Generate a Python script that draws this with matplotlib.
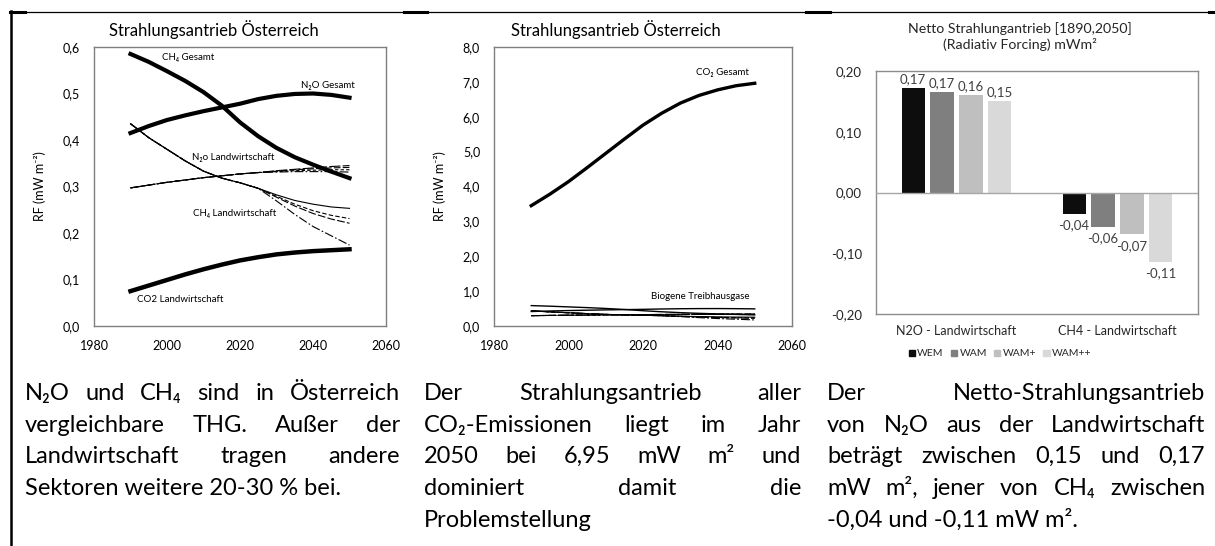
import matplotlib
matplotlib.use("Agg")
import matplotlib.pyplot as plt
from matplotlib.lines import Line2D
from matplotlib.patches import Patch
from matplotlib.ticker import FuncFormatter

FAM = ['Lato', 'DejaVu Sans']
plt.rcParams['font.family'] = FAM

# ---- data ----
years = [1990, 1995, 2000, 2005, 2010, 2015, 2020, 2025, 2030, 2035, 2040, 2045, 2050]

ch4_gesamt = [0.585, 0.568, 0.548, 0.527, 0.503, 0.474, 0.438, 0.408, 0.383, 0.363, 0.347, 0.332, 0.318]
n2o_gesamt = [0.415, 0.430, 0.443, 0.453, 0.462, 0.470, 0.478, 0.488, 0.495, 0.499, 0.500, 0.497, 0.491]
co2_landw = [0.075, 0.087, 0.099, 0.111, 0.122, 0.132, 0.141, 0.148, 0.154, 0.158, 0.161, 0.163, 0.165]

# scenarios WEM, WAM, WAM+, WAM++
n2o_landw = [
    [0.297, 0.303, 0.309, 0.314, 0.319, 0.323, 0.327, 0.330, 0.334, 0.337, 0.340, 0.343, 0.345],
    [0.297, 0.303, 0.309, 0.314, 0.319, 0.323, 0.327, 0.330, 0.333, 0.336, 0.338, 0.340, 0.341],
    [0.297, 0.303, 0.309, 0.314, 0.319, 0.323, 0.327, 0.330, 0.332, 0.334, 0.335, 0.336, 0.336],
    [0.297, 0.303, 0.309, 0.314, 0.319, 0.323, 0.327, 0.330, 0.331, 0.332, 0.332, 0.332, 0.331],
]
ch4_landw = [
    [0.435, 0.405, 0.380, 0.355, 0.333, 0.318, 0.308, 0.296, 0.282, 0.270, 0.262, 0.256, 0.253],
    [0.435, 0.405, 0.380, 0.355, 0.333, 0.318, 0.308, 0.296, 0.279, 0.262, 0.248, 0.238, 0.231],
    [0.435, 0.405, 0.380, 0.355, 0.333, 0.318, 0.308, 0.296, 0.277, 0.258, 0.242, 0.230, 0.221],
    [0.435, 0.405, 0.380, 0.355, 0.333, 0.318, 0.308, 0.296, 0.269, 0.240, 0.214, 0.194, 0.174],
]
co2_gesamt = [3.45, 3.78, 4.14, 4.54, 4.95, 5.36, 5.76, 6.10, 6.39, 6.61, 6.77, 6.89, 6.96]

bar_cats = ['N2O - Landwirtschaft', 'CH4 - Landwirtschaft']
scenarios = ['WEM', 'WAM', 'WAM+', 'WAM++']
bar_vals = {
    'WEM': [0.172, -0.035],
    'WAM': [0.166, -0.056],
    'WAM+': [0.160, -0.069],
    'WAM++': [0.150, -0.114],
}
bar_labels = {
    'WEM': ['0,17', '-0,04'],
    'WAM': ['0,17', '-0,06'],
    'WAM+': ['0,16', '-0,07'],
    'WAM++': ['0,15', '-0,11'],
}
bar_colors = ['#0d0d0d', '#7f7f7f', '#bfbfbf', '#d9d9d9']

para1 = ["N₂O und CH₄ sind in Österreich",
         "vergleichbare THG. Außer der",
         "Landwirtschaft tragen andere",
         "Sektoren weitere 20-30 % bei."]
para2 = ["Der Strahlungsantrieb aller",
         "CO₂-Emissionen liegt im Jahr",
         "2050 bei 6,95 mW m² und",
         "dominiert damit die",
         "Problemstellung"]
para3 = ["Der Netto-Strahlungsantrieb",
         "von N₂O aus der Landwirtschaft",
         "beträgt zwischen 0,15 und 0,17",
         "mW m², jener von CH₄ zwischen",
         "-0,04 und -0,11 mW m²."]

# ---- figure ----
W, H = 1215, 546
fig = plt.figure(figsize=(W / 100, H / 100), dpi=100)


def box(l, t, r, b):
    return [l / W, 1 - b / H, (r - l) / W, (b - t) / H]


def comma(fmt):
    return FuncFormatter(lambda v, p: format(v, fmt).replace('.', ','))


def style_line_axes(ax):
    for s in ax.spines.values():
        s.set_color('#7f7f7f')
        s.set_linewidth(1)
    ax.tick_params(length=0, labelsize=9, colors='black')
    ax.tick_params(axis='y', pad=10)
    ax.tick_params(axis='x', pad=10)
    ax.set_xlim(1980, 2060)
    ax.set_xticks([1980, 2000, 2020, 2040, 2060])
    ax.set_ylabel('RF (mW m⁻²)', fontsize=9, labelpad=12)
    ax.text(0.409, 1.061, 'Strahlungsantrieb Österreich', transform=ax.transAxes,
            ha='center', va='center', fontsize=12)


n2o_styles = [(0, (10, 2)), (0, (6, 2)), (0, (3, 2)), (0, (8, 2, 1.5, 2))]
ch4_styles = ['-', (0, (4, 2)), (0, (7, 2)), (0, (8, 2, 1.5, 2))]

# panel 1
ax1 = fig.add_axes(box(94, 47, 386, 326))
ax1.plot(years, ch4_gesamt, color='black', lw=3)
ax1.plot(years, n2o_gesamt, color='black', lw=3)
ax1.plot(years, co2_landw, color='black', lw=3.2)
for ser, ls in zip(n2o_landw, n2o_styles):
    ax1.plot(years, ser, color='black', lw=0.8, ls=ls)
for ser, ls in zip(ch4_landw, ch4_styles):
    ax1.plot(years, ser, color='black', lw=0.8, ls=ls)
ax1.set_ylim(0, 0.6)
ax1.set_yticks([0, 0.1, 0.2, 0.3, 0.4, 0.5, 0.6])
ax1.yaxis.set_major_formatter(comma('.1f'))
style_line_axes(ax1)
ann = dict(fontsize=7, ha='center', va='center')
ax1.text(2005.8, 0.578, 'CH₄ Gesamt', **ann)
ax1.text(2044.1, 0.518, 'N₂O Gesamt', **ann)
ax1.text(2018.1, 0.363, 'N₂o Landwirtschaft', **ann)
ax1.text(2018.6, 0.241, 'CH₄ Landwirtschaft', **ann)
ax1.text(2003.6, 0.058, 'CO2 Landwirtschaft', **ann)

# panel 2
ax2 = fig.add_axes(box(494, 47, 792, 326))
ax2.plot(years, co2_gesamt, color='black', lw=2.4)
for ser in [ch4_gesamt, n2o_gesamt]:
    ax2.plot(years, ser, color='black', lw=1)
for ser, ls in zip(n2o_landw, n2o_styles):
    ax2.plot(years, ser, color='black', lw=0.8, ls=ls)
for ser, ls in zip(ch4_landw, ch4_styles):
    ax2.plot(years, ser, color='black', lw=0.8, ls=ls)
ax2.set_ylim(0, 8)
ax2.set_yticks(range(0, 9))
ax2.yaxis.set_major_formatter(comma('.1f'))
style_line_axes(ax2)
ax2.text(2041.2, 7.28, 'CO₂ Gesamt', **ann)
ax2.text(2035.3, 0.86, 'Biogene Treibhausgase', **ann)

# panel 3
ax3 = fig.add_axes(box(876, 71, 1198, 314))
step, bw = 0.18, 0.143
for i, (sc, col) in enumerate(zip(scenarios, bar_colors)):
    xs = [c + (i - 1.5) * step for c in range(len(bar_cats))]
    ax3.bar(xs, bar_vals[sc], width=bw, color=col, label=sc, zorder=2)
    for x, v, lab in zip(xs, bar_vals[sc], bar_labels[sc]):
        if v >= 0:
            ax3.annotate(lab, (x, v), xytext=(0, 2), textcoords='offset points',
                         ha='center', va='bottom', fontsize=9.5, color='#404040')
        else:
            ax3.annotate(lab, (x, v), xytext=(0, -4), textcoords='offset points',
                         ha='center', va='top', fontsize=9.5, color='#404040')
ax3.axhline(0, color='#a6a6a6', lw=1, zorder=3)
ax3.set_xlim(-0.5, 1.5)
ax3.set_ylim(-0.2, 0.2)
ax3.set_yticks([-0.2, -0.1, 0, 0.1, 0.2])
ax3.yaxis.set_major_formatter(comma('.2f'))
ax3.set_xticks(range(len(bar_cats)))
ax3.set_xticklabels(bar_cats)
ax3.tick_params(length=0, colors='#262626')
ax3.tick_params(axis='y', labelsize=9.5, pad=10)
ax3.tick_params(axis='x', labelsize=9, pad=8)
for s in ax3.spines.values():
    s.set_color('#8c8c8c')
    s.set_linewidth(1)
ax3.text(0.447, 1.142, 'Netto Strahlungantrieb [1890,2050]\n(Radiativ Forcing) mWm²',
         transform=ax3.transAxes, ha='center', va='center', fontsize=10.2,
         linespacing=1.25, color='#262626')
handles = [Patch(color=c, label=s) for s, c in zip(scenarios, bar_colors)]
fig.legend(handles=handles, loc='center', bbox_to_anchor=(1000 / W, 1 - 354 / H), ncol=4,
           frameon=False, fontsize=7.5, handlelength=0.6, handleheight=0.6,
           handletextpad=0.2, columnspacing=0.7, labelcolor='#262626')

# table borders
fig.add_artist(Line2D([10 / W, 1], [1 - 11.5 / H] * 2, color='black', lw=0.9))
for a, b in [(10, 25), (404, 427), (806, 830), (1209, 1215)]:
    fig.add_artist(Line2D([a / W, b / W], [1 - 12 / H] * 2, color='black', lw=2.2))
fig.add_artist(Line2D([11 / W] * 2, [0, 1 - 11 / H], color='black', lw=1.8))

# justified paragraphs
fig.canvas.draw()
renderer = fig.canvas.get_renderer()


def measure(s, fs):
    t = fig.text(0, 0, s, fontsize=fs)
    w = t.get_window_extent(renderer=renderer).width
    t.remove()
    return w


fs = 17
baselines = [400, 431.7, 463.3, 495, 526.7]


def draw_para(lines, x0, x1):
    for i, line in enumerate(lines):
        y = 1 - baselines[i] / H
        words = line.split(' ')
        if i == len(lines) - 1 or len(words) == 1:
            fig.text(x0 / W, y, line, fontsize=fs, va='baseline', ha='left')
            continue
        widths = [measure(w, fs) for w in words]
        gap = (x1 - x0 - sum(widths)) / (len(words) - 1)
        x = x0
        for w, wd in zip(words, widths):
            fig.text(x / W, y, w, fontsize=fs, va='baseline', ha='left')
            x += wd + gap


draw_para(para1, 25, 400)
draw_para(para2, 424, 801)
draw_para(para3, 827, 1205)

fig.savefig('out.png', dpi=100, facecolor='white')
